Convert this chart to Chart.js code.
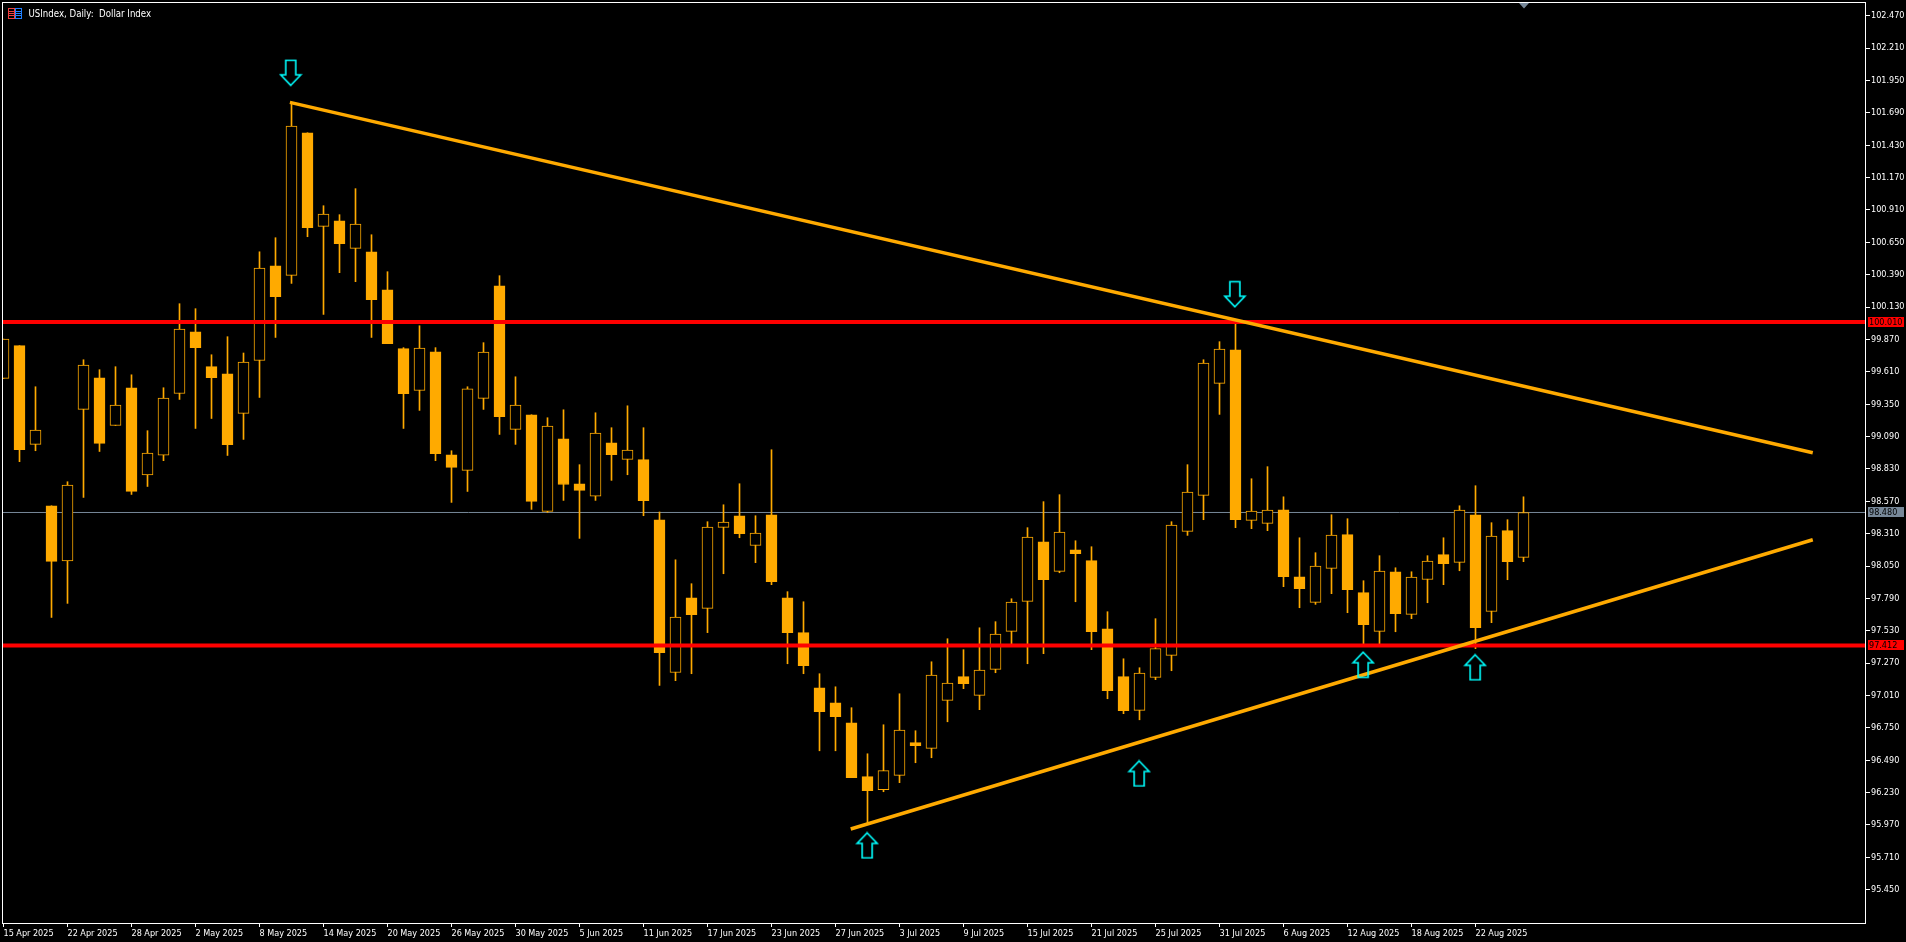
<!DOCTYPE html>
<html>
<head>
<meta charset="utf-8">
<title>USIndex, Daily: Dollar Index</title>
<style>
html,body{margin:0;padding:0;background:#000;overflow:hidden}
canvas{display:block}
</style>
<script src="https://cdn.jsdelivr.net/npm/chart.js@4"></script>
</head>
<body>
<canvas id="c" width="1906" height="942" style="width:1906px;height:942px"></canvas>
<script>
const chartTitle = 'USIndex, Daily:  Dollar Index';

const dateLabels = ['15 Apr 2025','22 Apr 2025','28 Apr 2025','2 May 2025','8 May 2025','14 May 2025','20 May 2025','26 May 2025','30 May 2025','5 Jun 2025','11 Jun 2025','17 Jun 2025','23 Jun 2025','27 Jun 2025','3 Jul 2025','9 Jul 2025','15 Jul 2025','21 Jul 2025','25 Jul 2025','31 Jul 2025','6 Aug 2025','12 Aug 2025','18 Aug 2025','22 Aug 2025'];

const priceTicks = ['102.470','102.210','101.950','101.690','101.430','101.170','100.910','100.650','100.390','100.130','99.870','99.610','99.350','99.090','98.830','98.570','98.310','98.050','97.790','97.530','97.270','97.010','96.750','96.490','96.230','95.970','95.710','95.450'];

const opens = [
99.557,99.820,99.027,98.534,98.090,99.308,99.562,99.179,99.482,98.781,
98.941,99.436,99.932,99.651,99.594,99.276,99.701,100.462,100.384,101.530,
100.778,100.823,100.601,100.574,100.269,99.796,99.460,99.771,98.944,98.818,
99.396,100.301,99.147,99.265,98.489,99.072,98.711,98.611,99.040,98.906,
98.904,98.422,97.195,97.795,97.710,98.360,98.454,98.215,98.462,97.795,
97.515,97.072,96.952,96.791,96.358,96.253,96.368,96.631,96.585,96.971,
97.161,97.011,97.220,97.525,97.766,98.245,98.007,98.181,98.093,97.546,
97.161,96.890,97.155,97.332,98.328,98.617,99.517,99.787,98.416,98.392,
98.502,97.964,97.758,98.031,98.302,97.836,97.525,98.004,97.661,97.942,
98.141,98.079,98.462,97.685,98.334,98.119];

const highs = [
99.873,99.820,99.490,98.534,98.727,99.707,99.627,99.651,99.586,99.137,
99.482,100.157,100.117,99.747,99.892,99.761,100.574,100.687,101.769,101.530,
100.944,100.872,101.081,100.711,100.414,99.804,99.980,99.804,98.976,99.490,
99.844,100.382,99.570,99.265,99.241,99.305,98.864,99.281,99.161,99.337,
99.161,98.484,98.100,97.908,98.406,98.542,98.711,98.454,98.984,97.844,
97.763,97.185,97.080,96.912,96.542,96.775,97.024,96.727,97.281,97.466,
97.378,97.554,97.603,97.787,98.358,98.567,98.623,98.253,98.205,97.683,
97.305,97.233,97.627,98.406,98.864,99.707,99.852,99.996,98.751,98.848,
98.606,98.277,98.157,98.462,98.430,97.932,98.133,98.036,98.004,98.133,
98.277,98.534,98.695,98.398,98.422,98.606];

const lows = [
99.557,98.888,98.976,97.637,97.750,98.601,98.970,99.179,98.625,98.689,
98.896,99.388,99.155,99.235,98.938,99.067,99.404,99.886,100.320,100.695,
100.071,100.406,100.334,99.886,99.836,99.155,99.300,98.896,98.561,98.649,
99.308,99.107,99.027,98.505,98.481,98.577,98.272,98.577,98.738,98.783,
98.454,97.091,97.129,97.185,97.515,97.988,98.277,98.077,97.900,97.265,
97.185,96.566,96.566,96.350,95.986,96.237,96.310,96.470,96.510,96.799,
97.065,96.896,97.193,97.418,97.265,97.346,97.996,97.763,97.378,96.984,
96.864,96.815,97.137,97.209,98.296,98.422,99.268,98.358,98.350,98.334,
97.884,97.715,97.742,97.828,97.675,97.410,97.410,97.522,97.627,97.755,
97.900,98.012,97.386,97.595,97.940,98.085];

const closes = [
99.873,98.984,99.142,98.087,98.700,99.664,99.035,99.343,98.649,98.958,
99.399,99.954,99.804,99.562,99.024,99.688,100.443,100.213,101.584,100.767,
100.877,100.639,100.797,100.189,99.836,99.434,99.801,98.952,98.842,99.474,
99.769,99.249,99.343,98.569,99.175,98.705,98.657,99.118,98.944,98.982,
98.575,97.354,97.640,97.659,98.363,98.403,98.309,98.315,97.924,97.515,
97.249,96.880,96.840,96.350,96.245,96.406,96.733,96.607,97.174,97.110,
97.105,97.215,97.504,97.761,98.283,97.940,98.323,98.149,97.522,97.048,
96.888,97.191,97.386,98.379,98.644,99.680,99.793,98.422,98.492,98.500,
97.964,97.868,98.050,98.299,97.860,97.579,98.010,97.667,97.962,98.090,
98.068,98.500,97.554,98.291,98.085,98.480];

const resistanceLevel = 100.010;
const supportLevel = 97.412;
const lastPrice = 98.480;

const upperTrendIndex = [17.9, 113.08];
const upperTrendValue = [101.774, 98.960];
const lowerTrendIndex = [52.95, 113.08];
const lowerTrendValue = [95.938, 98.261];

const downArrowIndex = [17.95, 76.96];
const downArrowValue = [102.012, 100.233];
const upArrowIndex = [53.98, 70.98, 84.98, 91.98];
const upArrowValue = [95.806, 96.384, 97.257, 97.236];

const AMBER = '#FFAA00', RED = '#FF0000', SLATE = '#778899', CYAN = '#00FFFF';
const BAR_COUNT_PER_TICK = 4;
const X_MIN = -0.03125, X_MAX = 116.34375;
const Y_MIN = 95.1827, Y_MAX = 102.5803;
const FONT = '"DejaVu Sans Condensed","Liberation Sans",sans-serif';

function arrowSprite(pointsUp) {
  const c = document.createElement('canvas');
  c.width = 24; c.height = 28;
  const g = c.getContext('2d');
  g.strokeStyle = CYAN; g.lineWidth = 1.6; g.lineJoin = 'miter';
  const p = [[12,1.5],[22,12],[17,12],[17,26.5],[7,26.5],[7,12],[2,12]];
  g.beginPath();
  p.forEach(([x,y],i)=>{ const yy = pointsUp ? y : 28-y; i ? g.lineTo(x,yy) : g.moveTo(x,yy); });
  g.closePath(); g.stroke();
  return c;
}

const pairs = (xs, ys) => xs.map((x,i)=>({x, y: ys[i]}));
const isUp = i => closes[i] >= opens[i];
const flat = v => [{x:X_MIN,y:v},{x:X_MAX,y:v}];
const noPadding = s => { s.paddingLeft = 0; s.paddingRight = 0; s.paddingTop = 0; s.paddingBottom = 0; };

const framePlugin = {
  id:'frame',
  afterDraw(chart){
    const {ctx, chartArea:a, scales:{x,y}} = chart;
    ctx.save();
    // frame
    ctx.strokeStyle='#fff'; ctx.lineWidth=1;
    ctx.strokeRect(a.left+0.5-1, a.top+0.5, a.right-a.left+1, a.bottom-a.top);
    // shift marker
    const mx = Math.round(x.getPixelForValue(opens.length-1));
    ctx.fillStyle=SLATE;
    ctx.beginPath(); ctx.moveTo(mx-5,3); ctx.lineTo(mx+5,3); ctx.lineTo(mx,8.5); ctx.closePath(); ctx.fill();
    // symbol icon
    const box=(l,col)=>{ctx.strokeStyle=col;ctx.strokeRect(l+.5,8.5,6,10);
      ctx.beginPath();[11.5,13.5,15.5].forEach(h=>{ctx.moveTo(l+1,h);ctx.lineTo(l+6,h)});ctx.stroke();};
    box(8,'#F04040'); box(15,'#2080FF');
    // title
    ctx.fillStyle='#fff'; ctx.font='9.6px '+FONT; ctx.textBaseline='middle'; ctx.textAlign='left';
    ctx.fillText(chartTitle,28.5,14);
    // price tags
    [[resistanceLevel,RED],[lastPrice,SLATE],[supportLevel,RED]].forEach(([v,col])=>{
      const py=Math.round(y.getPixelForValue(v));
      ctx.fillStyle=col; ctx.fillRect(a.right+3,py-5,36,10);
      ctx.fillStyle='#000'; ctx.font='9px '+FONT; ctx.textBaseline='middle';
      ctx.fillText(v.toFixed(3),a.right+4,py+0.5);
    });
    ctx.restore();
  }
};

new Chart(document.getElementById('c'),{
  data:{datasets:[
    {type:'line',label:'Last price',data:flat(lastPrice),borderColor:SLATE,borderWidth:1,pointRadius:0,order:10},
    {type:'bar',label:'Wick',data:highs.map((h,i)=>({x:i,y:[lows[i],h]})),backgroundColor:AMBER,barThickness:1,grouped:false,order:9},
    {type:'bar',label:'Body',data:opens.map((o,i)=>({x:i,y:[o,closes[i]]})),
      backgroundColor:opens.map((_,i)=>isUp(i)?'#000':AMBER),borderColor:AMBER,borderWidth:1,borderSkipped:false,barThickness:11,grouped:false,order:8},
    {type:'line',label:'Resistance',data:flat(resistanceLevel),borderColor:RED,borderWidth:4,pointRadius:0,order:5},
    {type:'line',label:'Support',data:flat(supportLevel),borderColor:RED,borderWidth:4,pointRadius:0,order:5},
    {type:'line',label:'Upper trend',data:pairs(upperTrendIndex,upperTrendValue),borderColor:AMBER,borderWidth:3.5,pointRadius:0,borderCapStyle:'butt',order:3},
    {type:'line',label:'Lower trend',data:pairs(lowerTrendIndex,lowerTrendValue),borderColor:AMBER,borderWidth:3.5,pointRadius:0,borderCapStyle:'butt',order:3},
    {type:'scatter',label:'Down arrows',data:pairs(downArrowIndex,downArrowValue),pointStyle:arrowSprite(false),order:1},
    {type:'scatter',label:'Up arrows',data:pairs(upArrowIndex,upArrowValue),pointStyle:arrowSprite(true),order:1}
  ]},
  options:{
    responsive:false,animation:false,devicePixelRatio:1,
    layout:{autoPadding:false,padding:{left:3,top:2,right:0,bottom:0}},
    plugins:{legend:{display:false},tooltip:{enabled:false},title:{display:false}},
    events:[],
    scales:{
      x:{type:'linear',min:X_MIN,max:X_MAX,offset:false,
        afterBuildTicks:s=>{s.ticks=dateLabels.map((_,k)=>({value:k*BAR_COUNT_PER_TICK}));},
        afterFit:s=>{s.height=19;noPadding(s);},
        grid:{offset:false,drawOnChartArea:false,drawTicks:true,tickLength:4,tickColor:'#fff',color:'#fff'},
        border:{display:false},
        ticks:{color:'#fff',align:'start',autoSkip:false,maxRotation:0,minRotation:0,padding:1,
          font:{family:FONT,size:9},
          callback:v=>dateLabels[Math.round(v/BAR_COUNT_PER_TICK)]}
      },
      y:{type:'linear',position:'right',min:Y_MIN,max:Y_MAX,
        afterBuildTicks:s=>{s.ticks=priceTicks.map(t=>({value:parseFloat(t)}));},
        afterFit:s=>{s.width=41;noPadding(s);},
        grid:{drawOnChartArea:false,drawTicks:true,tickLength:5,tickColor:'#fff',color:'#fff'},
        border:{display:false},
        ticks:{color:'#fff',autoSkip:false,padding:1,
          font:{family:FONT,size:9},
          callback:v=>priceTicks.find(t=>Math.abs(parseFloat(t)-v)<1e-6)}
      }
    }
  },
  plugins:[framePlugin]
});
</script>
</body>
</html>
